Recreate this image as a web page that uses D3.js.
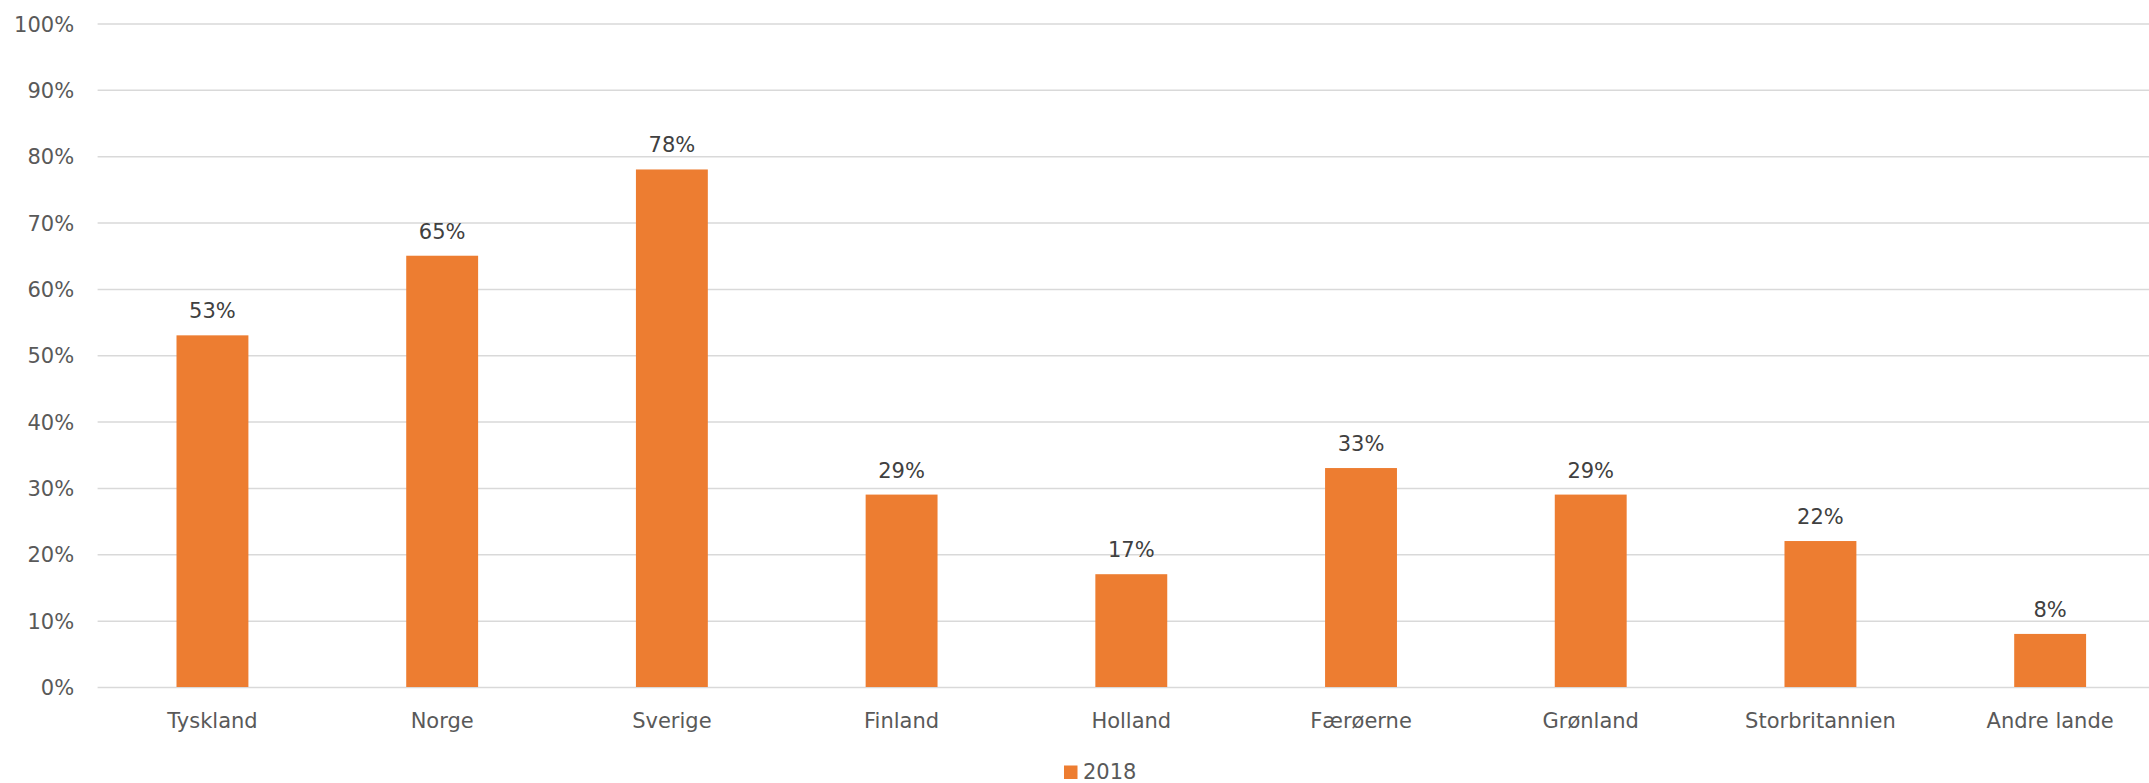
<!DOCTYPE html>
<html>
<head>
<meta charset="utf-8">
<script src="https://cdn.jsdelivr.net/npm/d3@7"></script>
<style>
  body { margin: 0; background: #fff; }
  svg { display: block; font-family: "DejaVu Sans", sans-serif; }
</style>
</head>
<body>
<div id="chart"></div>
<script>
// Chart data.
const countries = ["Tyskland", "Norge", "Sverige", "Finland", "Holland", "Færøerne", "Grønland", "Storbritannien", "Andre lande"];
const values2018 = [53, 65, 78, 29, 17, 33, 29, 22, 8];
const yTicks = [0, 10, 20, 30, 40, 50, 60, 70, 80, 90, 100];
const seriesName = "2018";

// Dimensions.
const width = 2149, height = 783;
const margin = { top: 23.5, right: -16, bottom: 96, left: 97.6 };

const svg = d3.select("#chart")
    .append("svg")
    .attr("width", width)
    .attr("height", height);

// Scales.
let x = d3.scaleBand()
    .domain(countries)
    .range([margin.left, width - margin.right])
    .paddingInner(0.687)
    .paddingOuter(0.3435);

let y = d3.scaleLinear()
    .domain([0, 100])
    .range([height - margin.bottom, margin.top]);

// Gridlines and Y axis labels.
const yAxis = svg.append("g")
    .attr("transform", "translate(" + margin.left + ",0)")
    .call(d3.axisLeft(y)
        .tickValues(yTicks)
        .tickSize(-(width - margin.left - margin.right))
        .tickPadding(23.5)
        .tickFormat(d => d + "%"));
yAxis.attr("font-family", "DejaVu Sans, sans-serif");
yAxis.select(".domain").remove();
yAxis.selectAll(".tick line")
    .attr("stroke", "#d9d9d9")
    .attr("stroke-width", 1.5);
yAxis.selectAll(".tick text")
    .attr("fill", "#595959")
    .style("font-size", "21px")
    .attr("dy", "0.36em");

// Bars.
svg.append("g")
    .selectAll("rect")
    .data(values2018)
    .enter()
    .append("rect")
    .attr("x", (d, i) => x(countries[i]))
    .attr("y", d => y(d))
    .attr("width", x.bandwidth())
    .attr("height", d => y(0) - y(d))
    .attr("fill", "#ed7d31");

// Data labels.
svg.append("g")
    .selectAll("text")
    .data(values2018)
    .enter()
    .append("text")
    .attr("x", (d, i) => x(countries[i]) + x.bandwidth() / 2)
    .attr("y", d => y(d) - 17)
    .attr("text-anchor", "middle")
    .attr("fill", "#404040")
    .style("font-size", "21px")
    .text(d => d + "%");

// Category labels.
svg.append("g")
    .selectAll("text")
    .data(countries)
    .enter()
    .append("text")
    .attr("x", d => x(d) + x.bandwidth() / 2)
    .attr("y", 728)
    .attr("text-anchor", "middle")
    .attr("fill", "#595959")
    .style("font-size", "21px")
    .text(d => d);

// Legend.
const legend = svg.append("g");
legend.append("rect")
    .attr("x", 1064)
    .attr("y", 765.5)
    .attr("width", 13.5)
    .attr("height", 13.5)
    .attr("fill", "#ed7d31");
legend.append("text")
    .attr("x", 1083)
    .attr("y", 778.5)
    .attr("fill", "#595959")
    .style("font-size", "21px")
    .text(seriesName);
</script>
</body>
</html>
